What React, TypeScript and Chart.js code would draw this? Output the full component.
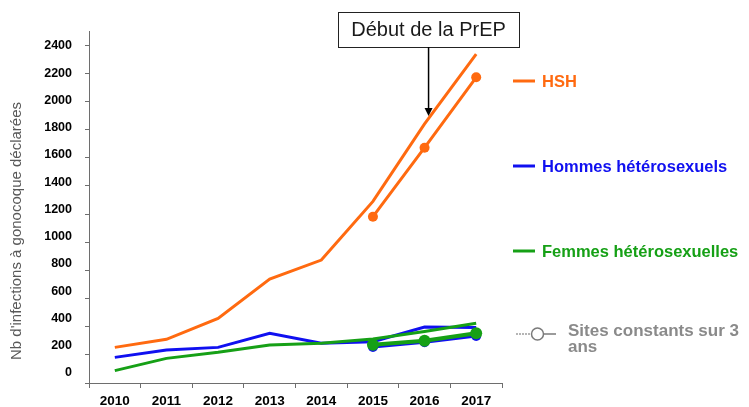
import React, { useEffect, useRef } from "react";
import { Chart, registerables } from "chart.js";

Chart.register(...registerables);

// ---- data ----
const years = ["2010", "2011", "2012", "2013", "2014", "2015", "2016", "2017"];
const hsh = [253, 310, 459, 738, 873, 1290, 1840, 2336];
const hshConst = [null, null, null, null, null, 1181, 1671, 2171];
const hommes = [182, 234, 253, 353, 282, 293, 398, 395];
const hommesConst = [null, null, null, null, null, 256, 290, 334];
const femmes = [88, 175, 218, 270, 282, 312, 365, 424];
const femmesConst = [null, null, null, null, null, 272, 300, 353];

const yTickValues = [0, 200, 400, 600, 800, 1000, 1200, 1400, 1600, 1800, 2000, 2200, 2400];
const yTickStep = 200;
const yMax = 2400;
const legendLabels = ["HSH", "Hommes hétérosexuels", "Femmes hétérosexuelles"];
const constLegendLines = ["Sites constants sur 3", "ans"];
const annotationText = "Début de la PrEP";
const annotationIndex = 6;
const yTitle = "Nb d'infections à gonocoque déclarées";

// ---- styles ----
const FONT = "'Liberation Sans', Arial, Helvetica, sans-serif";
const ORANGE = "#FF6A10";
const BLUE = "#1010F0";
const GREEN = "#16A016";
const GRAY = "#8A8A8A";
const AXIS = "#6E6E6E";

const overlayPlugin = {
  id: "overlay",
  afterDraw(chart: any) {
    const { ctx, chartArea, scales } = chart;
    const r = chartArea.right;
    ctx.save();

    // y-axis title
    ctx.save();
    ctx.translate(17, 231);
    ctx.rotate(-Math.PI / 2);
    ctx.font = `15px ${FONT}`;
    ctx.fillStyle = "#595959";
    ctx.textAlign = "center";
    ctx.textBaseline = "middle";
    ctx.fillText(yTitle, 0, 0);
    ctx.restore();

    // legend
    const colors = [ORANGE, BLUE, GREEN];
    const ys = [81, 166, 251];
    ctx.textBaseline = "middle";
    ctx.textAlign = "left";
    legendLabels.forEach((lab, i) => {
      ctx.strokeStyle = colors[i];
      ctx.lineWidth = 3;
      ctx.beginPath();
      ctx.moveTo(r + 11, ys[i]);
      ctx.lineTo(r + 33, ys[i]);
      ctx.stroke();
      ctx.fillStyle = colors[i];
      ctx.font = `bold 16.5px ${FONT}`;
      ctx.fillText(lab, r + 40, ys[i] + 1);
    });
    // constant sites symbol
    const sy = 334;
    ctx.strokeStyle = "#B5B5B5";
    ctx.lineWidth = 2;
    ctx.setLineDash([2, 1]);
    ctx.beginPath();
    ctx.moveTo(r + 14, sy);
    ctx.lineTo(r + 29, sy);
    ctx.stroke();
    ctx.setLineDash([]);
    ctx.strokeStyle = "#7A7A7A";
    ctx.lineWidth = 1.5;
    ctx.beginPath();
    ctx.moveTo(r + 42, sy);
    ctx.lineTo(r + 54, sy);
    ctx.stroke();
    ctx.beginPath();
    ctx.arc(r + 35.5, sy, 6, 0, Math.PI * 2);
    ctx.fillStyle = "#fff";
    ctx.fill();
    ctx.stroke();
    ctx.fillStyle = GRAY;
    ctx.font = `bold 17px ${FONT}`;
    constLegendLines.forEach((t, i) => {
      ctx.fillText(t, r + 66, 331 + i * 16);
    });

    // annotation box + arrow
    const ax = scales.x.getPixelForValue(annotationIndex) + 4;
    ctx.font = `20px ${FONT}`;
    const tw = ctx.measureText(annotationText).width;
    const bw = tw + 26;
    const bTop = 12;
    const bH = 35;
    ctx.fillStyle = "#fff";
    ctx.fillRect(ax - bw / 2, bTop, bw, bH);
    ctx.strokeStyle = "#222";
    ctx.lineWidth = 1;
    ctx.strokeRect(Math.round(ax - bw / 2) + 0.5, bTop + 0.5, Math.round(bw), bH);
    ctx.fillStyle = "#1a1a1a";
    ctx.textAlign = "center";
    ctx.textBaseline = "middle";
    ctx.fillText(annotationText, ax, bTop + bH / 2 + 1);

    const tipY = scales.y.getPixelForValue(hsh[annotationIndex]) - 8;
    ctx.strokeStyle = "#000";
    ctx.lineWidth = 1.5;
    ctx.beginPath();
    ctx.moveTo(ax, bTop + bH);
    ctx.lineTo(ax, tipY - 7);
    ctx.stroke();
    ctx.fillStyle = "#000";
    ctx.beginPath();
    ctx.moveTo(ax - 4, tipY - 8);
    ctx.lineTo(ax + 4, tipY - 8);
    ctx.lineTo(ax, tipY);
    ctx.closePath();
    ctx.fill();

    ctx.restore();
  },
};

export default function App() {
  const ref = useRef<HTMLCanvasElement | null>(null);

  useEffect(() => {
    if (!ref.current) return;
    const mkLine = (data: any[], color: string, width: number, radius: number) => ({
      data,
      borderColor: color,
      backgroundColor: color,
      borderWidth: width,
      pointRadius: radius,
      pointHoverRadius: radius,
      pointBorderWidth: 0,
      pointBackgroundColor: color,
      tension: 0,
      fill: false,
      yAxisID: "y",
      xAxisID: "x",
    });
    const chart = new Chart(ref.current, {
      type: "line",
      data: {
        labels: years,
        datasets: [
          mkLine(femmesConst, GREEN, 4, 6),
          mkLine(hommesConst, BLUE, 3, 5),
          mkLine(hshConst, ORANGE, 3, 5),
          mkLine(femmes, GREEN, 3, 0),
          mkLine(hommes, BLUE, 3, 0),
          mkLine(hsh, ORANGE, 3, 0),
        ],
      },
      options: {
        animation: false,
        responsive: false,
        maintainAspectRatio: false,
        layout: { padding: { left: 0, right: 247, top: 31, bottom: 0 } },
        plugins: {
          legend: { display: false },
          tooltip: { enabled: false },
          title: { display: false },
        },
        scales: {
          x: {
            type: "category",
            offset: true,
            grid: { offset: true, drawOnChartArea: false, tickLength: 5, color: AXIS },
            border: { color: AXIS, width: 1 },
            ticks: {
              font: { family: FONT, size: 13.5, weight: "bold" },
              color: "#000",
              padding: 5,
              maxRotation: 0,
              autoSkip: false,
            },
            afterFit: (s: any) => {
              s.height = 24;
            },
          },
          y: {
            type: "linear",
            position: "left",
            weight: 0,
            min: 0,
            max: yMax + 100,
            grid: { drawOnChartArea: false, tickLength: 4, color: AXIS },
            border: { color: AXIS, width: 1 },
            ticks: { display: false, stepSize: yTickStep, includeBounds: false, autoSkip: false },
            afterBuildTicks: (s: any) => {
              s.ticks = yTickValues.map((v) => ({ value: v }));
            },
            afterFit: (s: any) => {
              s.width = 4;
            },
          },
          yLabels: {
            type: "linear",
            position: "left",
            weight: 1,
            min: -73.4,
            max: 2510,
            grid: { display: false, drawTicks: false },
            border: { display: false },
            ticks: {
              includeBounds: false,
              autoSkip: false,
              padding: 13,
              color: "#000",
              font: { family: FONT, size: 12.5, weight: "bold" },
              callback: (v: any) => String(v),
            },
            afterBuildTicks: (s: any) => {
              s.ticks = yTickValues.map((v) => ({ value: v }));
            },
            afterFit: (s: any) => {
              s.width = 85;
            },
          },
        },
      } as any,
      plugins: [overlayPlugin],
    });
    return () => chart.destroy();
  }, []);

  return (
    <div style={{ position: "absolute", left: 0, top: 0, width: 749, height: 407, background: "#fff" }}>
      <canvas ref={ref} width={749} height={407} style={{ display: "block" }} />
    </div>
  );
}
